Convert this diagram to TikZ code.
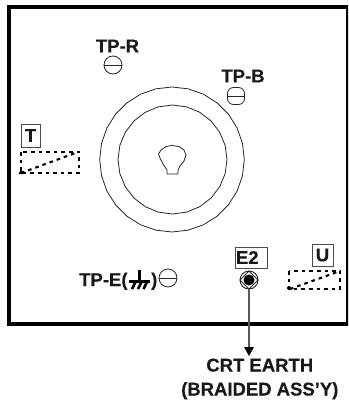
\documentclass[tikz,border=0pt]{standalone}
\usepackage{fontspec}
\setmainfont{Liberation Sans}[FakeBold=0.25]
\usetikzlibrary{arrows.meta}
\begin{document}
\begin{tikzpicture}[x=1pt,y=-1pt,
  lab/.style={font=\fontsize{18.5}{20}\selectfont\bfseries,inner sep=0pt,text=black!90},
  tagbox/.style={draw=black!70,line width=0.9pt,font=\fontsize{18.5}{20}\selectfont\bfseries,inner sep=0pt,text=black!90},
  thin line/.style={line width=0.8pt,draw=black!85},
  dotted box/.style={line width=2.1pt,dash pattern=on 3.6pt off 4pt,draw=black},
  testpoint/.style={circle,draw=black!85,line width=0.8pt,minimum size=18pt,inner sep=0pt}]
\useasboundingbox (0,0) rectangle (348,404);
\clip (0,0) rectangle (348,404);
% frame
\draw[line width=4pt,draw=black] (9,7) rectangle (348,324);
% CRT neck circles
\draw[thin line] plot[samples=29,domain=0:360] ({172+72.3*cos(\x)},{159.5+72.5*sin(\x)});
\draw[thin line] plot[samples=25,domain=0:360] ({172.5+54.5*cos(\x)},{159.5+54.5*sin(\x)});
% bulb
\draw[thin line] (167,174) -- (167,170) -- (163,164) -- (160,158) -- (158.5,154) -- (161,150) -- (166,146.5) -- (172,145.5) -- (179,146.5) -- (184,150) -- (186,155) -- (184,161) -- (180,166) -- (178,170) -- (178,174) -- cycle;
% test points
\node[testpoint] (tpr) at (113,65) {};
\draw[thin line] (tpr.west) -- (tpr.east);
\node[lab] (tprl) at (117.5,46) {TP-R};
\node[draw=black!85,line width=0.8pt,rounded corners=6pt,minimum width=17pt,minimum height=17pt,inner sep=0pt] (tpb) at (236,96) {};
\draw[thin line] (tpb.west) -- (tpb.east);
\node[lab] (tpbl) at (243,76) {TP-B};
\node[testpoint] (tpe) at (168,278) {};
\draw[thin line] (tpe.west) -- (tpe.east);
\node[lab,anchor=base west] (tpel) at (79,286) {TP-E(};
\node[lab,anchor=base west] (tper) at (151,286) {)};
% earth symbol
\draw[line width=3pt] (139.5,270) -- (139.5,281);
\draw[line width=3pt] (129,281.5) -- (150,281.5);
\draw[line width=2.6pt] (135.5,282) -- (132,289) (141.5,282) -- (138,289) (147,282) -- (143.5,289);
% tags
\node[tagbox,minimum width=19pt,minimum height=23pt] (t) at (30.5,135.5) {T};
\node[tagbox,minimum width=32pt,minimum height=21pt,text width=32pt,align=left] (e2) at (251,257.5) {\hspace{1pt}E2};
\node[tagbox,minimum width=21pt,minimum height=22pt] (u) at (322.5,255) {U};
% dashed rectangles
\draw[dotted box] (21,152) rectangle (79,173);
\draw[dotted box] (21,173) -- (78,152);
\fill (18.5,174) -- (23.5,174) -- (21,169) -- cycle;
\draw[dotted box] (289,271) rectangle (340,289);
\draw[dotted box] (290,289) -- (340,271);
\fill (289,288) circle (2pt);
% E2 terminal
\node[circle,draw=black!85,line width=0.9pt,minimum size=18pt,inner sep=0pt] (term) at (249,280) {};
\draw[thin line] (240,280) -- (249,271) -- (258,280) -- (249,289) -- cycle;
\fill[black] (term.center) circle (5.5pt);
\coordinate (tip) at (249,356);
\node[lab,anchor=base] (crt) at (259.8,371.5) {CRT EARTH};
\node[lab,anchor=base] (brd) at (259.8,395.5) {(BRAIDED ASS\symbol{39}Y)};
\draw[line width=1.3pt,draw=black!65] (term.south) -- (249,348);
\fill[black] (244,347) -- (254,347) -- (tip) -- cycle;
\end{tikzpicture}
\end{document}
